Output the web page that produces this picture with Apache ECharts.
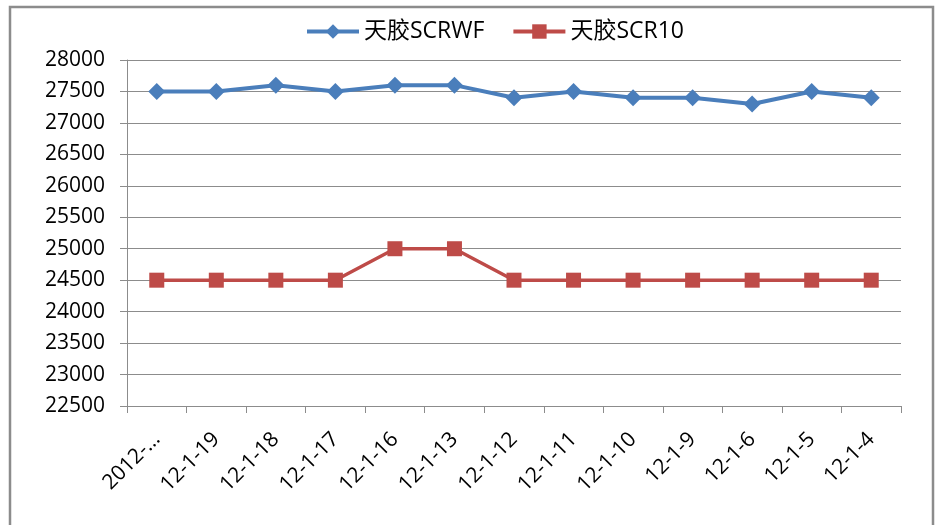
<!DOCTYPE html>
<html><head><meta charset="utf-8">
<script src="https://cdn.jsdelivr.net/npm/echarts@6/dist/echarts.min.js"></script>
<style>html,body{margin:0;padding:0;background:#fff}#c{width:939px;height:525px}</style>
</head><body><div id="c"></div>
<script>
const categories = ["2012-…","12-1-19","12-1-18","12-1-17","12-1-16","12-1-13","12-1-12","12-1-11","12-1-10","12-1-9","12-1-6","12-1-5","12-1-4"];
const scrwf = [27500,27500,27600,27500,27600,27600,27400,27500,27400,27400,27300,27500,27400];
const scr10 = [24500,24500,24500,24500,25000,25000,24500,24500,24500,24500,24500,24500,24500];
const seriesNames = ["天胶SCRWF","天胶SCR10"];
const yMin = 22500, yMax = 28000, yStep = 500;

const chart = echarts.init(document.getElementById('c'));
const font = '"Open Sans","Noto Sans CJK SC",sans-serif';
chart.setOption({
  animation:false,
  backgroundColor:'#fff',
  graphic:[{type:'rect',shape:{x:10,y:7,width:923,height:530},style:{fill:'none',stroke:'#8c8c8c',lineWidth:2.5},silent:true}],
  legend:{top:15,left:300,itemWidth:52,itemHeight:18,itemGap:27,
    textStyle:{fontFamily:font,fontSize:23,color:'#000'},
    data:[{name:seriesNames[0],lineStyle:{width:4}},{name:seriesNames[1],lineStyle:{width:4}}]},
  grid:{left:127,right:38,top:60,bottom:119},
  xAxis:{type:'category',data:categories,boundaryGap:true,
    axisLine:{lineStyle:{color:'#8c8c8c',width:1}},
    axisTick:{show:true,length:7,alignWithLabel:false,lineStyle:{color:'#8c8c8c'}},
    axisLabel:{rotate:45,interval:0,fontFamily:font,fontSize:21,color:'#000',margin:30}},
  yAxis:{type:'value',min:yMin,max:yMax,interval:yStep,
    axisLine:{show:true,lineStyle:{color:'#8c8c8c'}},
    axisTick:{show:true,length:7,lineStyle:{color:'#8c8c8c'}},
    splitLine:{lineStyle:{color:'#8c8c8c',width:1}},
    axisLabel:{fontFamily:font,fontSize:21,color:'#000',margin:22,formatter:v=>String(v)}},
  series:[
    {name:seriesNames[0],type:'line',data:scrwf,symbol:'diamond',symbolSize:17,
     lineStyle:{color:'#4a7ebb',width:4},itemStyle:{color:'#4a7ebb'}},
    {name:seriesNames[1],type:'line',data:scr10,symbol:'rect',symbolSize:15,
     lineStyle:{color:'#be4b48',width:3.5},itemStyle:{color:'#be4b48'}}
  ]
});
</script></body></html>
